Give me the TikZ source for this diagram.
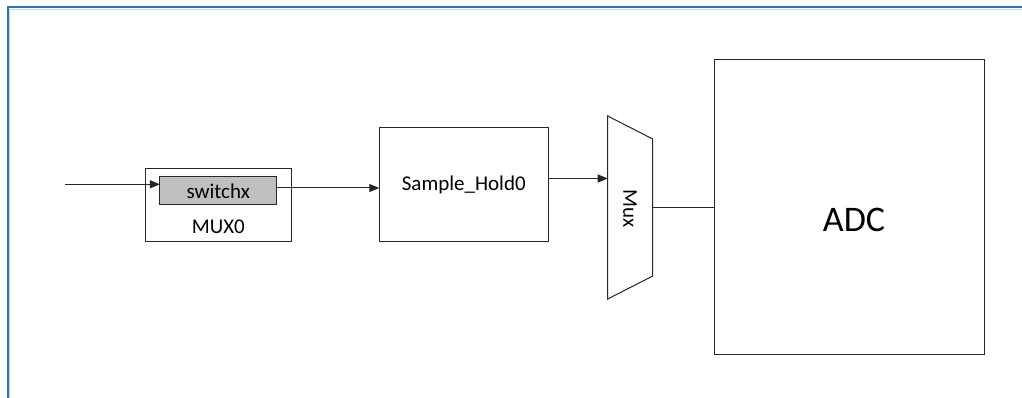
\documentclass[tikz,border=0pt]{standalone}
\usepackage{fontspec}
\setmainfont{Carlito}
\usetikzlibrary{arrows.meta}
\definecolor{framecol}{HTML}{2E75B6}
\definecolor{frameshade}{HTML}{BDD7EE}
\definecolor{linecol}{HTML}{262626}
\definecolor{switchfill}{HTML}{BFBFBF}
\begin{document}
\begin{tikzpicture}[x=1pt,y=-1pt,
  wire/.style={draw=linecol,line width=1pt},
  sig/.style={wire,-{Triangle[length=10pt,width=8pt]}},
  block/.style={draw=linecol,line width=1pt,fill=white,inner sep=0pt,outer sep=0pt},
  lbl/.style={font=\fontsize{21}{25}\selectfont,inner sep=0pt}]
\useasboundingbox (0,0) rectangle (1022,398);
\fill[white] (0,0) rectangle (1022,398);
% page frame along top and left
\draw[frameshade,line width=1pt] (9.5,398) -- (9.5,9.5) -- (1022,9.5);
\draw[framecol,line width=2pt] (7.5,398) -- (7.5,7.5) -- (1022,7.5);

% MUX0 with its switch
\node[block,minimum width=146pt,minimum height=73.4pt] (mux0) at (218.7,205) {};
\node[block,fill=switchfill,minimum width=116.7pt,minimum height=28.3pt] (sw) at (218.3,190.8) {};
\node[lbl] at (218.3,191) {switchx};
\node[lbl] (mux0lbl) at (218.3,226.7) {MUX0};

% sample and hold
\node[block,minimum width=169pt,minimum height=114.4pt,lbl] (sh) at (463.8,184.5) {Sample\_Hold0};

% output multiplexer
\coordinate (mtl) at (607.7,116);
\coordinate (mtr) at (652.7,139);
\coordinate (mbr) at (652.7,276);
\coordinate (mbl) at (607.7,299);
\draw[wire,line join=miter] (mtl) -- (mtr) -- (mbr) -- (mbl) -- cycle;
\node[lbl,rotate=-90] (mux) at (630,209) {Mux};
\coordinate (muxin) at (607.7,178.5);
\coordinate (muxout) at (652.7,207.3);

% converter
\node[block,minimum width=270pt,minimum height=295pt] (adc) at (849,206.7) {};
\node[font=\fontsize{36}{40}\selectfont,inner sep=0pt] (adclbl) at (854,220) {ADC};

% signal path
\coordinate (src) at (65,184.3);
\draw[sig] (src) -- (src -| sw.west);
\draw[sig] (sw.east |- 0,188) -- (sh.west |- 0,188);
\draw[sig] (sh.east |- muxin) -- (muxin);
\draw[wire] (muxout) -- (muxout -| adc.west);
\end{tikzpicture}
\end{document}
